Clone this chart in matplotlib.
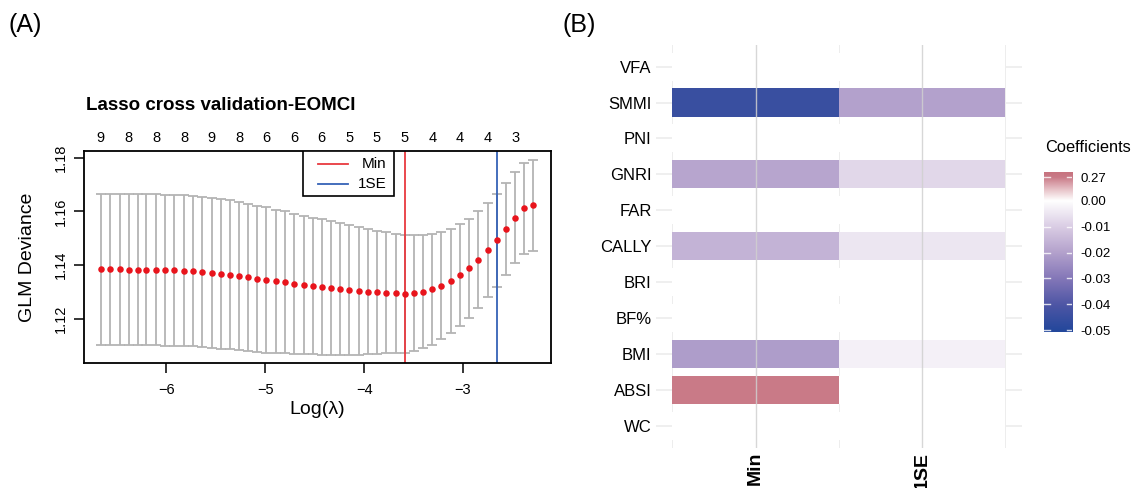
import numpy as np
import matplotlib
matplotlib.use("Agg")
import matplotlib.pyplot as plt
from matplotlib.colors import LinearSegmentedColormap, Normalize
from matplotlib.patches import Rectangle
from matplotlib.transforms import blended_transform_factory

plt.rcParams['font.family'] = ['Liberation Sans', 'DejaVu Sans']

# ---- panel A data: cv.glmnet curve ----
log_lambda = [-6.66, -6.57, -6.47, -6.38, -6.29, -6.20, -6.10, -6.01, -5.92, -5.82,
              -5.73, -5.64, -5.54, -5.45, -5.36, -5.26, -5.17, -5.08, -4.99, -4.89,
              -4.80, -4.71, -4.61, -4.52, -4.43, -4.33, -4.24, -4.15, -4.05, -3.96,
              -3.87, -3.78, -3.68, -3.59, -3.50, -3.40, -3.31, -3.22, -3.12, -3.03,
              -2.94, -2.85, -2.75, -2.66, -2.57, -2.47, -2.38, -2.29]
cvm = [1.1385, 1.1385, 1.1385, 1.1384, 1.1383, 1.1383, 1.1383, 1.1382, 1.1381, 1.1380,
       1.1379, 1.1375, 1.1372, 1.1368, 1.1365, 1.1360, 1.1355, 1.1350, 1.1345, 1.1340,
       1.1336, 1.1331, 1.1327, 1.1323, 1.1319, 1.1315, 1.1312, 1.1308, 1.1304, 1.1302,
       1.1299, 1.1298, 1.1296, 1.1294, 1.1296, 1.1302, 1.1310, 1.1324, 1.1342, 1.1363,
       1.1389, 1.1420, 1.1456, 1.1493, 1.1535, 1.1577, 1.1612, 1.1623]
cvsd = [0.0281, 0.0281, 0.0281, 0.0281, 0.0281, 0.0281, 0.0281, 0.0281, 0.0280, 0.0280,
        0.0280, 0.0279, 0.0279, 0.0278, 0.0277, 0.0276, 0.0274, 0.0272, 0.0270, 0.0267,
        0.0264, 0.0261, 0.0257, 0.0254, 0.0252, 0.0248, 0.0245, 0.0241, 0.0237, 0.0233,
        0.0229, 0.0225, 0.0222, 0.0219, 0.0215, 0.0211, 0.0206, 0.0199, 0.0194, 0.0190,
        0.0184, 0.0180, 0.0175, 0.0173, 0.0172, 0.0170, 0.0170, 0.0170]
nzero_idx = [0, 3, 6, 9, 12, 15, 18, 21, 24, 27, 30, 33, 36, 39, 42, 45]
nzero = [9, 8, 8, 8, 9, 8, 6, 6, 6, 5, 5, 5, 4, 4, 4, 3]
lambda_min = -3.586
lambda_1se = -2.657
xticks_a = [-6, -5, -4, -3]
yticks_a = [1.12, 1.14, 1.16, 1.18]

# ---- panel B data: coefficients ----
features = ['VFA', 'SMMI', 'PNI', 'GNRI', 'FAR', 'CALLY', 'BRI', 'BF%', 'BMI', 'ABSI', 'WC']
models = ['Min', '1SE']
coef_min = [0.0, -0.045, 0.0, -0.019, 0.0, -0.016, 0.0, 0.0, -0.021, 0.27, 0.0]
coef_1se = [0.0, -0.020, 0.0, -0.008, 0.0, -0.005, 0.0, 0.0, -0.003, 0.0, 0.0]
cbar_values = [0.27, 0.00, -0.01, -0.02, -0.03, -0.04, -0.05]
cbar_labels = ['0.27', '0.00', '-0.01', '-0.02', '-0.03', '-0.04', '-0.05']

W, H = 1137, 488
fig = plt.figure(figsize=(W / 100, H / 100), dpi=100)


def fx(px):
    return px / W


def fy(py):
    return 1 - py / H


# ================= panel A =================
axA = fig.add_axes([fx(84.3), fy(363.3), fx(550.7 - 84.3), (363.3 - 151) / H])
axA.errorbar(log_lambda, cvm, yerr=cvsd, fmt='none', ecolor='#b4b4b4',
             elinewidth=1.3, capsize=3.4, capthick=1.3, zorder=1)
axA.scatter(log_lambda, cvm, s=22, color='#e8141c', linewidths=0, zorder=3)
axA.axvline(lambda_min, color='#e8393f', lw=1.3, zorder=2)
axA.axvline(lambda_1se, color='#3562b6', lw=1.3, zorder=2)
axA.set_xlim(-6.828, -2.114)
axA.set_ylim(1.1035, 1.1825)
axA.set_xticks(xticks_a)
axA.set_xticklabels(['\u2212%d' % abs(v) for v in xticks_a], fontsize=10.5)
axA.set_yticks(yticks_a)
axA.set_yticklabels(['%.2f' % v for v in yticks_a], fontsize=10.5, rotation=90, va='center')
axA.tick_params(axis='both', length=7, width=1.1, direction='out')
axA.tick_params(axis='x', pad=7)
axA.tick_params(axis='y', pad=5)
for sp in axA.spines.values():
    sp.set_linewidth(1.3)
axA.set_xlabel('Log(λ)', fontsize=14)
axA.xaxis.set_label_coords(0.5, (363.3 - 410) / 212.3)
axA.xaxis.label.set_va('center')
axA.set_ylabel('GLM Deviance', fontsize=14)
axA.yaxis.set_label_coords((28 - 84.3) / 466.4, 0.5)
axA.yaxis.label.set_va('center')

trans = blended_transform_factory(axA.transData, axA.transAxes)
for i, n in zip(nzero_idx, nzero):
    axA.text(log_lambda[i], 1 + 13 / 212.3, str(n), transform=trans,
             ha='center', va='center', fontsize=10.5)

# legend box
axA.add_patch(Rectangle((0.468, 0.788), 0.197, 0.212, transform=axA.transAxes,
                        facecolor='white', edgecolor='black', lw=1.2, zorder=5))
for yy, c, lab in [(0.939, '#e8393f', 'Min'), (0.845, '#3562b6', '1SE')]:
    axA.plot([0.500, 0.566], [yy, yy], color=c, lw=1.3, transform=axA.transAxes, zorder=6)
    axA.text(0.648, yy, lab, transform=axA.transAxes, ha='right', va='center',
             fontsize=11, zorder=6)

fig.text(fx(85.7), fy(105.7), 'Lasso cross validation-EOMCI', ha='left', va='center',
         fontsize=13.5, fontweight='bold')
fig.text(fx(9), fy(25), '(A)', ha='left', va='center', fontsize=18)
fig.text(fx(563), fy(25), '(B)', ha='left', va='center', fontsize=18)

# ================= panel B =================
p_lo, p_hi = -5.05, 1.09
p_top = 0.9   # position of 0.27 on the colour bar


def to_pos(v):
    return v / 0.01 if v <= 0 else v / 0.27 * p_top


def frac(p):
    return (p - p_lo) / (p_hi - p_lo)


cmap = LinearSegmentedColormap.from_list('coef', [
    (0.0, '#22479b'),
    (frac(-4), '#4e56a5'),
    (frac(-3), '#8477b8'),
    (frac(-2), '#b3a1cc'),
    (frac(-1), '#dacde4'),
    (frac(0), '#ffffff'),
    (frac(0.45), '#e6bfc5'),
    (frac(p_top), '#c97a87'),
    (1.0, '#c7737f'),
], N=1024)
norm = Normalize(p_lo, p_hi)

axB = fig.add_axes([fx(655.7), fy(447.5), fx(1022 - 655.7), (447.5 - 45) / H])
ypos = np.arange(len(features), 0, -1)
xpos = np.arange(1, len(models) + 1)
for y in ypos:
    axB.axhline(y, color='#ebebeb', lw=1.1, zorder=0)
for x in [0.5, 1.5, 2.5]:
    axB.axvline(x, color='#ededed', lw=0.7, zorder=0)
for x, vals in zip(xpos, [coef_min, coef_1se]):
    cols = ['white' if v == 0 else cmap(norm(to_pos(v))) for v in vals]
    axB.barh(ypos, 1.0, left=x - 0.5, height=0.78, color=cols, zorder=1, linewidth=0)
for x in xpos:
    axB.axvline(x, color='#d0d0d0', lw=1.0, alpha=0.85, zorder=3)
axB.set_xlim(0.4, 2.6)
axB.set_ylim(0.4, 11.6)
axB.set_yticks(ypos)
axB.set_yticklabels(features, fontsize=12)
axB.set_xticks(xpos)
axB.set_xticklabels(models, fontsize=14, fontweight='bold', rotation=90, va='top')
axB.tick_params(axis='both', length=0)
axB.tick_params(axis='y', pad=3)
axB.tick_params(axis='x', pad=3)
for sp in axB.spines.values():
    sp.set_visible(False)

# colour bar
cax = fig.add_axes([fx(1044), fy(331.7), fx(1072.3 - 1044), (331.7 - 172.3) / H])
grad = np.linspace(p_lo, p_hi, 400)[:, None]
cax.imshow(grad, aspect='auto', origin='lower', extent=(0, 1, p_lo, p_hi), cmap=cmap, norm=norm)
cax.set_xlim(0, 1)
cax.set_ylim(p_lo, p_hi)
tick_pos = [to_pos(v) for v in cbar_values]
for t in tick_pos:
    cax.plot([0, 0.2], [t, t], color='white', lw=1.0, alpha=0.8)
    cax.plot([0.8, 1], [t, t], color='white', lw=1.0, alpha=0.8)
cax.set_xticks([])
cax.yaxis.tick_right()
cax.set_yticks(tick_pos)
cax.set_yticklabels(cbar_labels, fontsize=9.5)
cax.tick_params(axis='y', length=0, pad=6)
for sp in cax.spines.values():
    sp.set_visible(False)
fig.text(fx(1045), fy(148), 'Coefficients', ha='left', va='center', fontsize=11.8)

fig.savefig('out.png', dpi=100)
